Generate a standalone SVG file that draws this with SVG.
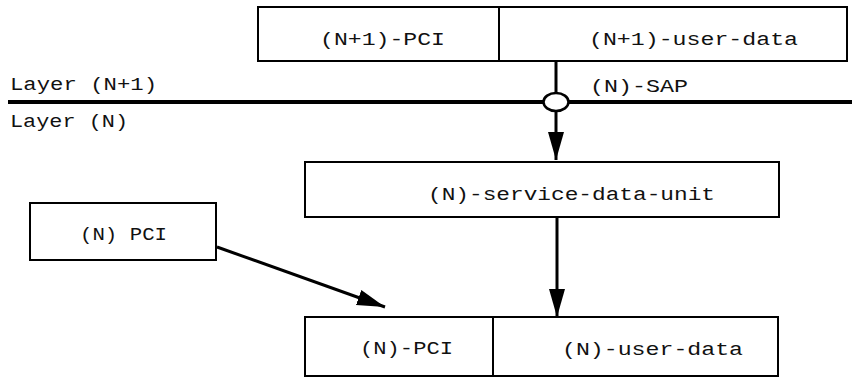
<svg xmlns="http://www.w3.org/2000/svg" width="852" height="378" viewBox="0 0 852 378">
  <style>
    .box { fill: #fff; stroke: #000; stroke-width: 2; }
    .div { stroke: #000; stroke-width: 2; }
    .lbl { font-family: "Liberation Mono", "DejaVu Sans Mono", monospace; font-size: 19px; fill: #111; }
    .conn { stroke: #000; stroke-width: 3; fill: none; }
    .layer { stroke: #000; stroke-width: 4; }
  </style>
  <defs>
    <marker id="head" markerUnits="userSpaceOnUse" markerWidth="30" markerHeight="18" refX="28" refY="8" orient="auto">
      <path d="M0,0 L28,8 L0,16 Z" fill="#000"/>
    </marker>
  </defs>
  <rect width="852" height="378" fill="#fff"/>

  <!-- layer boundary -->
  <g id="layer-boundary">
    <line class="layer" x1="8" y1="102" x2="852" y2="102"/>
    <text class="lbl" x="10" y="90" textLength="147" lengthAdjust="spacingAndGlyphs">Layer (N+1)</text>
    <text class="lbl" x="10" y="127" textLength="118" lengthAdjust="spacingAndGlyphs">Layer (N)</text>
  </g>

  <!-- connectors -->
  <g id="connectors">
    <line class="conn" x1="556" y1="61" x2="556" y2="93"/>
    <line class="conn" x1="556" y1="111" x2="556" y2="160" marker-end="url(#head)"/>
    <line class="conn" x1="557" y1="217" x2="557" y2="317" marker-end="url(#head)"/>
    <line class="conn" x1="217" y1="247" x2="385" y2="307" marker-end="url(#head)"/>
  </g>

  <!-- (N+1)-PDU -->
  <g id="n1-pdu">
    <rect class="box" x="258" y="7" width="589" height="54"/>
    <line class="div" x1="499" y1="7" x2="499" y2="61"/>
    <text class="lbl" x="320" y="45" textLength="125" lengthAdjust="spacingAndGlyphs">(N+1)-PCI</text>
    <text class="lbl" x="589" y="45" textLength="209" lengthAdjust="spacingAndGlyphs">(N+1)-user-data</text>
  </g>

  <!-- service access point -->
  <g id="n-sap">
    <ellipse cx="556" cy="102" rx="12.5" ry="9" fill="#fff" stroke="#000" stroke-width="2.5"/>
    <text class="lbl" x="590" y="92" textLength="98" lengthAdjust="spacingAndGlyphs">(N)-SAP</text>
  </g>

  <!-- (N)-SDU -->
  <g id="n-sdu">
    <rect class="box" x="305" y="162" width="474" height="55"/>
    <text class="lbl" x="428" y="200" textLength="287" lengthAdjust="spacingAndGlyphs">(N)-service-data-unit</text>
  </g>

  <!-- (N) PCI -->
  <g id="n-pci">
    <rect class="box" x="30" y="203" width="186" height="57"/>
    <text class="lbl" x="80" y="240" textLength="87" lengthAdjust="spacingAndGlyphs">(N) PCI</text>
  </g>

  <!-- (N)-PDU -->
  <g id="n-pdu">
    <rect class="box" x="305" y="317" width="473" height="59"/>
    <line class="div" x1="493" y1="317" x2="493" y2="376"/>
    <text class="lbl" x="360" y="354" textLength="93" lengthAdjust="spacingAndGlyphs">(N)-PCI</text>
    <text class="lbl" x="562" y="355" textLength="181" lengthAdjust="spacingAndGlyphs">(N)-user-data</text>
  </g>
</svg>
